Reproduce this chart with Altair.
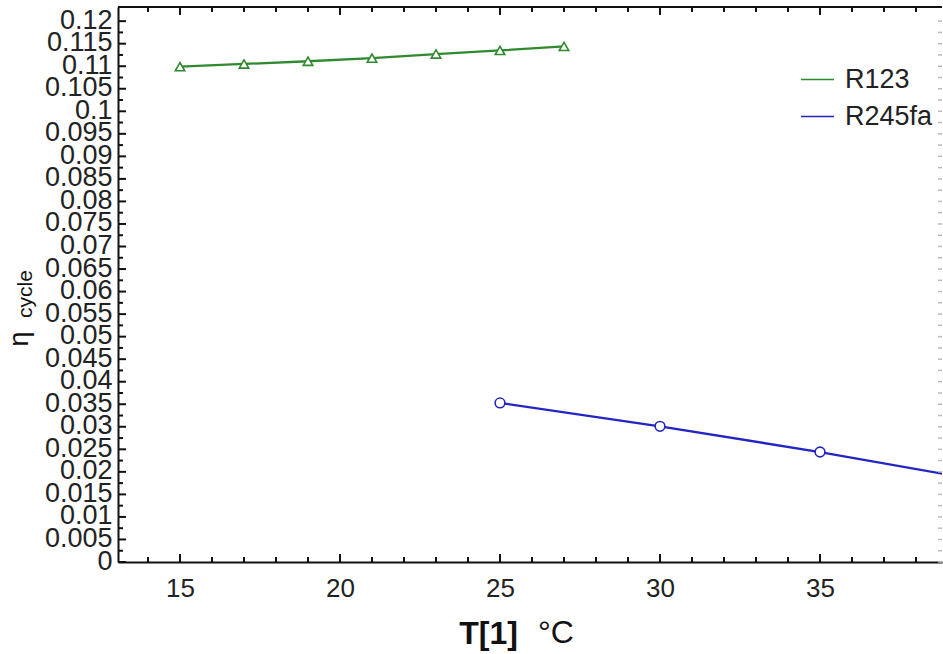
import altair as alt
import pandas as pd

# ---- data ----
t_r123 = [15, 17, 19, 21, 23, 25, 27]
eta_r123 = [0.1099, 0.1105, 0.1111, 0.1118, 0.1127, 0.1135, 0.1144]

t_r245fa = [25, 30, 35, 40]
eta_r245fa = [0.0353, 0.0301, 0.0244, 0.0181]

fluids = ["R123", "R245fa"]
fluid_colors = ["#2f8a2f", "#2424c4"]

x_major = [15, 20, 25, 30, 35]
x_minor = [14, 16, 17, 18, 19, 21, 22, 23, 24, 26, 27, 28, 29, 31, 32, 33, 34, 36, 37, 38]
y_major = [0, 0.005, 0.01, 0.015, 0.02, 0.025, 0.03, 0.035, 0.04, 0.045, 0.05, 0.055,
           0.06, 0.065, 0.07, 0.075, 0.08, 0.085, 0.09, 0.095, 0.1, 0.105, 0.11, 0.115, 0.12]
y_minor = [0.0025, 0.0075, 0.0125, 0.0175, 0.0225, 0.0275, 0.0325, 0.0375, 0.0425, 0.0475,
           0.0525, 0.0575, 0.0625, 0.0675, 0.0725, 0.0775, 0.0825, 0.0875, 0.0925, 0.0975,
           0.1025, 0.1075, 0.1125, 0.1175]

W, H = 824, 555
FONT = "Liberation Sans"

df_r123 = pd.DataFrame({"T": t_r123, "eta": eta_r123, "fluid": "R123"})
df_r245 = pd.DataFrame({"T": t_r245fa, "eta": eta_r245fa, "fluid": "R245fa"})
df = pd.concat([df_r123, df_r245])

xscale = alt.Scale(domain=[13.0625, 38.8125], nice=False, zero=False)
yscale = alt.Scale(domain=[0, 0.12314], nice=False, zero=False)

x_axis = alt.Axis(
    values=x_major, ticks=False, tickSize=0, grid=False,
    labelFont=FONT, labelFontSize=26, labelColor="#222", labelPadding=13,
    domainColor="#111", domainWidth=2,
    title="T[1]", titleFont=FONT, titleFontSize=32, titleFontWeight="bold",
    titleColor="#111", titleX=370, titleY=81, titleAlign="center",
    titleBaseline="alphabetic")
y_axis = alt.Axis(
    values=y_major, format="~g", ticks=False, tickSize=0, grid=False,
    labelFont=FONT, labelFontSize=27, labelColor="#222", labelPadding=6,
    labelOverlap=False, labelOffset=-1, domainColor="#111", domainWidth=2,
    title=None)


def X():
    return alt.X("T:Q", scale=xscale, axis=x_axis)


def Y():
    return alt.Y("eta:Q", scale=yscale, axis=y_axis)


lines = alt.Chart(df).mark_line(strokeWidth=2.3, clip=True).encode(
    x=X(), y=Y(),
    color=alt.Color("fluid:N", scale=alt.Scale(domain=fluids, range=fluid_colors),
                    legend=alt.Legend(orient="none", legendX=682, legendY=55, title=None,
                                      symbolType="stroke", symbolSize=1089,
                                      symbolStrokeWidth=1.5, labelFont=FONT,
                                      labelFontSize=27, labelColor="#222",
                                      labelOffset=10, rowPadding=6, padding=0)),
)

pts_r123 = alt.Chart(df_r123).mark_point(
    shape="triangle-up", filled=False, fill="white", fillOpacity=1, stroke=fluid_colors[0],
    strokeWidth=1.6, size=90, clip=True, opacity=1).encode(x=X(), y=Y())
pts_r245 = alt.Chart(df_r245).mark_point(
    shape="circle", filled=False, fill="white", fillOpacity=1, stroke=fluid_colors[1],
    strokeWidth=1.6, size=95, clip=True, opacity=1).encode(x=X(), y=Y())

xmaj = pd.DataFrame({"T": x_major})
xmin = pd.DataFrame({"T": x_minor})
ymaj = pd.DataFrame({"eta": y_major})
ymin = pd.DataFrame({"eta": y_minor})


def xticks(data, y0, y1, color="#111"):
    return alt.Chart(data).mark_rule(color=color, strokeWidth=2).encode(
        x=X(), y=alt.value(y0), y2=alt.value(y1))


def yticks(data, x0, x1, color="#111", sw=2):
    return alt.Chart(data).mark_rule(color=color, strokeWidth=sw).encode(
        y=Y(), x=alt.value(x0), x2=alt.value(x1))


ticks = [
    xticks(xmaj, H, H - 8), xticks(xmin, H, H - 5),
    xticks(xmaj, 0, 8), xticks(xmin, 0, 5),
    yticks(ymaj, 0, 8), yticks(ymin, 0, 5),
    yticks(ymaj, W, W - 4, "#bbbbbb", 1.5), yticks(ymin, W, W - 4, "#bbbbbb", 1.5),
]

top_line = alt.Chart(pd.DataFrame({"a": [0]})).mark_rule(color="#111", strokeWidth=2).encode(
    x=alt.value(0), x2=alt.value(W), y=alt.value(0))

unit = alt.Chart(pd.DataFrame({"a": [0]})).mark_text(
    text="°C", font=FONT, fontSize=32, color="#111", align="center", baseline="alphabetic"
).encode(x=alt.value(438), y=alt.value(636))

eta_sym = alt.Chart(pd.DataFrame({"a": [0]})).mark_text(
    text="η", font=FONT, fontSize=27, color="#111", angle=270, align="center",
    baseline="alphabetic").encode(x=alt.value(-90), y=alt.value(332))

eta_sub = alt.Chart(pd.DataFrame({"a": [0]})).mark_text(
    text="cycle", font=FONT, fontSize=21, color="#111", angle=270, align="center",
    baseline="alphabetic").encode(x=alt.value(-86), y=alt.value(287))

chart = alt.layer(lines, pts_r123, pts_r245, *ticks, top_line, unit, eta_sym, eta_sub).properties(
    width=W, height=H,
    padding={"left": 118, "top": 7, "right": 1, "bottom": 92},
    autosize=alt.AutoSizeParams(type="none"),
    background="white",
).configure_view(stroke=None)

chart.save("out.html", embed_options={"renderer": "svg", "actions": False})
